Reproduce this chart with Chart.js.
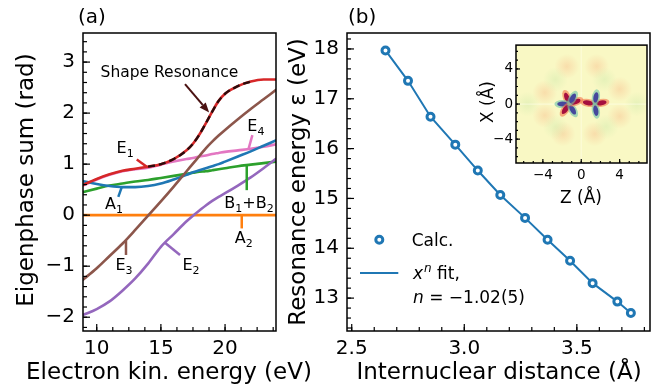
<!DOCTYPE html>
<html lang="en">
<head>
<meta charset="UTF-8">
<title>Eigenphase sum and shape resonance</title>
<script src="https://cdn.jsdelivr.net/npm/chart.js"></script>
<style>
  body { margin: 0; background: #fff; width: 657px; height: 388px; position: relative; overflow: hidden; }
  canvas { position: absolute; }
  #chartA { left: 0; top: 0; }
  #chartB { left: 280px; top: 0; }
  #inset { left: 468px; top: 34px; }
  .panel { position: absolute; font: 20px/20px "DejaVu Sans", sans-serif; color: #000; }
</style>
</head>
<body>
<canvas id="chartA" width="330" height="388"></canvas>
<canvas id="chartB" width="377" height="388"></canvas>
<canvas id="inset" width="186" height="175"></canvas>
<div class="panel" style="left:78px; top:6px">(a)</div>
<div class="panel" style="left:348px; top:6px">(b)</div>

<script>
  // ---- panel (a): eigenphase sums ----
  const kinEnergy = [8.9, 10, 11, 12, 13, 14, 15, 16, 17, 17.5, 18, 18.5, 19, 19.5, 20, 21, 22, 23, 24];
  const phaseA1 = [0.67, 0.61, 0.57, 0.55, 0.55, 0.57, 0.62, 0.70, 0.79, 0.84, 0.88, 0.92, 0.96, 1.00, 1.05, 1.15, 1.25, 1.36, 1.47];
  const phaseA2 = [0, 0, 0, 0, 0, 0, 0, 0, 0, 0, 0, 0, 0, 0, 0, 0, 0, 0, 0];
  const phaseB = [0.45, 0.52, 0.58, 0.62, 0.66, 0.69, 0.73, 0.77, 0.81, 0.83, 0.85, 0.86, 0.88, 0.90, 0.92, 0.96, 0.99, 1.02, 1.05];
  const phaseE1 = [0.59, 0.71, 0.80, 0.87, 0.91, 0.95, 1.00, 1.10, 1.27, 1.40, 1.58, 1.80, 2.03, 2.24, 2.38, 2.53, 2.62, 2.66, 2.66];
  const phaseE2 = [-1.96, -1.84, -1.69, -1.48, -1.24, -0.95, -0.62, -0.37, -0.12, -0.01, 0.09, 0.19, 0.28, 0.36, 0.43, 0.58, 0.74, 0.92, 1.11];
  const phaseE3 = [-1.27, -1.04, -0.80, -0.56, -0.29, -0.01, 0.27, 0.56, 0.86, 1.01, 1.16, 1.31, 1.44, 1.56, 1.67, 1.88, 2.08, 2.27, 2.46];
  const phaseE4 = [0.58, 0.70, 0.79, 0.86, 0.90, 0.93, 0.99, 1.05, 1.10, 1.12, 1.15, 1.17, 1.20, 1.22, 1.24, 1.27, 1.30, 1.34, 1.39];
  const shapeEnergy = [14, 15, 16, 17, 17.5, 18, 18.5, 19, 19.5, 20, 21, 22];
  const shapePhase = [0.95, 1.00, 1.10, 1.27, 1.40, 1.58, 1.80, 2.03, 2.24, 2.38, 2.53, 2.62];
  const energyTicks = [10, 15, 20];
  const phaseTicks = [-2, -1, 0, 1, 2, 3];

  // ---- panel (b): resonance energy vs internuclear distance ----
  const distance = [2.65, 2.75, 2.85, 2.96, 3.06, 3.16, 3.27, 3.37, 3.47, 3.57, 3.68, 3.74];
  const resEnergy = [17.97, 17.36, 16.64, 16.08, 15.56, 15.07, 14.61, 14.17, 13.75, 13.30, 12.93, 12.70];
  const distTicks = [2.5, 3.0, 3.5];
  const resTicks = [13, 14, 15, 16, 17, 18];

  // ---- inset: resonance wavefunction in the Z-X plane ----
  const insetTicks = [-4, 0, 4];
  const lobeZ = [-1.25, -1.25, -1.25, -1.25, -1.25, -1.25, 1.4, 1.4, 1.4, 1.4];
  const lobeX = [0, 0, 0, 0, 0, 0, 0, 0, 0, 0];
  const lobeAngle = [110, 180, 235, 300, 20, 60, 170, 10, 80, 280];
  const lobeSign = [1, -1, 1, -1, 1, -1, 1, 1, -1, -1];
  const blobZ = [-3.8, -3.8, -1.5, 1.6, 4.0, 4.0, -1.9, 1.4, -2.7, 2.4, -2.7, 2.6, -5.6, 5.8];
  const blobX = [1.3, -1.3, 4.3, 4.3, 1.7, -1.4, -3.4, -3.4, 2.8, 2.8, -2.6, -2.6, 0, 0];
  const blobSign = [1, 1, 1, 1, 1, 1, 1, 1, -1, -1, -1, -1, -1, -1];

  const FONT = '"DejaVu Sans", sans-serif';
  const C = { blue: '#1f77b4', orange: '#ff7f0e', green: '#2ca02c', red: '#d62728', purple: '#9467bd', brown: '#8c564b', pink: '#e377c2' };
  const minus = v => String(v).replace('-', '\u2212');
  const pts = (xs, ys) => xs.map((x, i) => ({ x, y: ys[i] }));

  // leader-line labels of panel (a), in data coordinates
  const notesA = [
    { parts: [['E', 0], ['1', 1]], color: C.red, lead: [13.12, 1.09, 13.90, 0.95], at: [12.21, 1.22] },
    { parts: [['A', 0], ['1', 1]], color: C.blue, lead: [11.68, 0.36, 11.95, 0.55], at: [11.35, 0.13] },
    { parts: [['E', 0], ['4', 1]], color: C.pink, lead: [22.13, 1.57, 21.82, 1.29], at: [22.40, 1.65] },
    { parts: [['B', 0], ['1', 1], ['+B', 0], ['2', 1]], color: C.green, lead: [21.69, 0.97, 21.69, 0.49], at: [21.87, 0.15] },
    { parts: [['A', 0], ['2', 1]], color: C.orange, lead: [21.30, 0, 21.30, -0.26], at: [21.46, -0.555] },
    { parts: [['E', 0], ['3', 1]], color: C.brown, lead: [12.28, -0.50, 12.28, -0.78], at: [12.13, -1.08] },
    { parts: [['E', 0], ['2', 1]], color: C.purple, lead: [15.32, -0.54, 16.49, -0.78], at: [17.35, -1.08] }
  ];

  function drawParts(ctx, cx, by, parts, size, subSize) {
    const fm = size + 'px ' + FONT, fs = subSize + 'px ' + FONT;
    let w = 0;
    parts.forEach(([t, s]) => { ctx.font = s ? fs : fm; w += ctx.measureText(t).width; });
    let x = cx - w / 2;
    ctx.textAlign = 'left';
    ctx.textBaseline = 'alphabetic';
    parts.forEach(([t, s]) => {
      ctx.font = s ? fs : fm;
      ctx.fillText(t, x, s ? by + 4 : by);
      x += ctx.measureText(t).width;
    });
  }

  function range(from, to, step) {
    const out = [];
    for (let v = from; v <= to + 1e-9; v += step) out.push(+v.toFixed(4));
    return out;
  }

  function drawTicks(chart, id, majors, minors, majLen, minLen) {
    const { ctx, chartArea: a } = chart;
    const s = chart.scales[id];
    ctx.save();
    ctx.strokeStyle = '#000';
    ctx.lineWidth = 1.2;
    const one = (v, len) => {
      const p = s.getPixelForValue(v);
      ctx.beginPath();
      if (s.isHorizontal()) { ctx.moveTo(p, a.bottom); ctx.lineTo(p, a.bottom - len); }
      else { ctx.moveTo(a.left, p); ctx.lineTo(a.left + len, p); }
      ctx.stroke();
    };
    minors.forEach(v => one(v, minLen));
    majors.forEach(v => one(v, majLen));
    ctx.restore();
  }

  function drawFrame(chart) {
    const { ctx, chartArea: a } = chart;
    ctx.save();
    ctx.strokeStyle = '#000';
    ctx.lineWidth = 1.5;
    ctx.strokeRect(a.left, a.top, a.width, a.height);
    ctx.restore();
  }

  function drawTitle(ctx, text, x, y, size, vertical) {
    ctx.save();
    ctx.fillStyle = '#000';
    ctx.font = size + 'px ' + FONT;
    ctx.textAlign = 'center';
    ctx.textBaseline = 'alphabetic';
    ctx.translate(x, y);
    if (vertical) ctx.rotate(-Math.PI / 2);
    ctx.fillText(text, 0, 0);
    ctx.restore();
  }

  function axis(min, max, ticks, fmt, extra) {
    return Object.assign({
      type: 'linear', min, max,
      afterBuildTicks: s => { s.ticks = ticks.map(v => ({ value: v })); },
      grid: { display: false, drawTicks: false },
      border: { display: false },
      ticks: { color: '#000', font: { family: FONT, size: 20 }, autoSkip: false, maxRotation: 0, callback: fmt }
    }, extra);
  }

  const curve = (xs, ys, color, order, extra) => Object.assign({
    data: pts(xs, ys), borderColor: color, borderWidth: 2.6, pointRadius: 0,
    cubicInterpolationMode: 'monotone', order
  }, extra);

  const panelA = {
    id: 'panelA',
    afterDatasetsDraw(chart) {
      const { ctx, scales: { x, y } } = chart;
      const P = (vx, vy) => [x.getPixelForValue(vx), y.getPixelForValue(vy)];
      ctx.save();
      notesA.forEach(n => {
        const [x1, y1] = P(n.lead[0], n.lead[1]);
        const [x2, y2] = P(n.lead[2], n.lead[3]);
        ctx.strokeStyle = n.color;
        ctx.lineWidth = 2.5;
        ctx.beginPath(); ctx.moveTo(x1, y1); ctx.lineTo(x2, y2); ctx.stroke();
        ctx.fillStyle = '#000';
        const [cx, by] = P(n.at[0], n.at[1]);
        drawParts(ctx, cx, by, n.parts, 16, 11);
      });
      // shape resonance label and arrow
      const [tx, ty] = P(15.67, 2.70);
      ctx.fillStyle = '#000';
      drawParts(ctx, tx, ty, [['Shape Resonance', 0]], 15.5, 11);
      const [ax1, ay1] = P(16.88, 2.57);
      const [ax2, ay2] = P(18.76, 2.01);
      const ang = Math.atan2(ay2 - ay1, ax2 - ax1), hl = 10, hw = 4;
      const cs = Math.cos(ang), sn = Math.sin(ang);
      ctx.strokeStyle = ctx.fillStyle = '#4a1212';
      ctx.lineWidth = 2;
      ctx.beginPath(); ctx.moveTo(ax1, ay1); ctx.lineTo(ax2 - hl * cs, ay2 - hl * sn); ctx.stroke();
      ctx.beginPath();
      ctx.moveTo(ax2, ay2);
      ctx.lineTo(ax2 - hl * cs - hw * sn, ay2 - hl * sn + hw * cs);
      ctx.lineTo(ax2 - hl * cs + hw * sn, ay2 - hl * sn - hw * cs);
      ctx.closePath(); ctx.fill();
      ctx.restore();
    },
    afterDraw(chart) {
      drawFrame(chart);
      drawTicks(chart, 'y', phaseTicks, range(-2.2, 3.4, 0.2), 7, 4);
      drawTicks(chart, 'x', energyTicks, range(10, 23.75, 1.25), 7, 4);
      drawTitle(chart.ctx, 'Electron kin. energy (eV)', 169, 379, 23, false);
      drawTitle(chart.ctx, 'Eigenphase sum (rad)', 33, 180, 23, true);
    }
  };

  new Chart(document.getElementById('chartA'), {
    type: 'line',
    data: {
      datasets: [
        curve(shapeEnergy, shapePhase, 'rgba(35,10,10,0.95)', 0, { borderDash: [7, 4], borderWidth: 2.4 }),
        curve(kinEnergy, phaseE1, C.red, 1),
        curve(kinEnergy, phaseE3, C.brown, 2),
        curve(kinEnergy, phaseE2, C.purple, 3),
        curve(kinEnergy, phaseA1, C.blue, 4),
        curve(kinEnergy, phaseB, C.green, 5),
        curve(kinEnergy, phaseE4, C.pink, 6),
        curve(kinEnergy, phaseA2, C.orange, 7)
      ]
    },
    options: {
      responsive: false,
      animation: false,
      layout: { padding: { left: 0, right: 54, top: 33, bottom: 0 } },
      plugins: { legend: { display: false }, tooltip: { enabled: false } },
      scales: {
        x: axis(8.93, 23.97, energyTicks, v => minus(v), { afterFit: s => { s.height = 57; } }),
        y: axis(-2.27, 3.57, phaseTicks, v => minus(v), { afterFit: s => { s.width = 83; } })
      }
    },
    plugins: [panelA]
  });
  Chart.getChart('chartA').options.scales.x.ticks.padding = 6;
  Chart.getChart('chartA').options.scales.y.ticks.padding = 8;
  Chart.getChart('chartA').update();

  const panelB = {
    id: 'panelB',
    afterDraw(chart) {
      const { ctx, chartArea: a } = chart;
      drawFrame(chart);
      drawTicks(chart, 'y', resTicks, range(12.4, 18.2, 0.2), 7, 4);
      drawTicks(chart, 'x', distTicks, range(2.5, 3.8, 0.1), 7, 4);
      drawTitle(ctx, 'Internuclear distance (Å)', 219, 379, 23, false);
      drawTitle(ctx, 'Resonance energy ε (eV)', 25, 182, 23, true);
      // legend
      ctx.save();
      ctx.strokeStyle = C.blue;
      ctx.fillStyle = '#fff';
      ctx.lineWidth = 3;
      ctx.beginPath(); ctx.arc(a.left + 32.3, a.top + 206.7, 3.5, 0, Math.PI * 2); ctx.fill(); ctx.stroke();
      ctx.lineWidth = 2;
      ctx.beginPath(); ctx.moveTo(a.left + 13, a.top + 240); ctx.lineTo(a.left + 51.3, a.top + 240); ctx.stroke();
      ctx.fillStyle = '#000';
      ctx.textAlign = 'left';
      ctx.textBaseline = 'alphabetic';
      ctx.font = '17px ' + FONT;
      ctx.fillText('Calc.', a.left + 64.7, a.top + 212.7);
      let x0 = a.left + 66;
      ctx.font = 'italic 17px ' + FONT;
      ctx.fillText('x', x0, a.top + 246);
      x0 += ctx.measureText('x').width + 1;
      ctx.font = 'italic 12px ' + FONT;
      ctx.fillText('n', x0, a.top + 239);
      x0 += ctx.measureText('n').width;
      ctx.font = '17px ' + FONT;
      ctx.fillText(' fit,', x0, a.top + 246);
      x0 = a.left + 66;
      ctx.font = 'italic 17px ' + FONT;
      ctx.fillText('n', x0, a.top + 270);
      x0 += ctx.measureText('n').width;
      ctx.font = '17px ' + FONT;
      ctx.fillText(' = \u22121.02(5)', x0, a.top + 270);
      ctx.restore();
    }
  };

  new Chart(document.getElementById('chartB'), {
    type: 'line',
    data: {
      datasets: [
        { data: pts(distance, resEnergy), borderColor: C.blue, borderWidth: 2, pointRadius: 0, order: 2 },
        {
          data: pts(distance, resEnergy), showLine: false, order: 1,
          pointRadius: 3.5, pointBorderWidth: 3, pointBorderColor: C.blue, pointBackgroundColor: '#fff'
        }
      ]
    },
    options: {
      responsive: false,
      animation: false,
      layout: { padding: { left: 0, right: 5, top: 33, bottom: 0 } },
      plugins: { legend: { display: false }, tooltip: { enabled: false } },
      scales: {
        x: axis(2.479, 3.825, distTicks, v => v.toFixed(1), { afterFit: s => { s.height = 57; } }),
        y: axis(12.34, 18.32, resTicks, v => minus(v), { afterFit: s => { s.width = 67; } })
      }
    },
    plugins: [panelB]
  });
  Chart.getChart('chartB').options.scales.x.ticks.padding = 6;
  Chart.getChart('chartB').options.scales.y.ticks.padding = 8;
  Chart.getChart('chartB').update();

  function ellipse(ctx, cx, cy, rx, ry, rot, color) {
    ctx.fillStyle = color;
    ctx.beginPath();
    ctx.ellipse(cx, cy, rx, ry, rot, 0, Math.PI * 2);
    ctx.fill();
  }

  const insetMap = {
    id: 'insetMap',
    beforeDatasetsDraw(chart) {
      const { ctx, chartArea: a, scales: { x, y } } = chart;
      const ux = Math.abs(x.getPixelForValue(1) - x.getPixelForValue(0));
      ctx.save();
      ctx.beginPath(); ctx.rect(a.left, a.top, a.width, a.height); ctx.clip();
      ctx.fillStyle = '#f9f8c4';
      ctx.fillRect(a.left, a.top, a.width, a.height);
      // faint outer oscillations
      blobZ.forEach((z, i) => {
        const cx = x.getPixelForValue(z), cy = y.getPixelForValue(blobX[i]);
        const r = 1.3 * ux;
        const g = ctx.createRadialGradient(cx, cy, 0, cx, cy, r);
        const col = blobSign[i] > 0 ? '248,200,150' : '214,236,176';
        g.addColorStop(0, 'rgba(' + col + ',0.55)');
        g.addColorStop(1, 'rgba(' + col + ',0)');
        ctx.fillStyle = g;
        ctx.fillRect(cx - r, cy - r, 2 * r, 2 * r);
      });
      // nodal planes
      ctx.strokeStyle = 'rgba(255,255,235,0.5)';
      ctx.lineWidth = 1.2;
      ctx.beginPath();
      ctx.moveTo(x.getPixelForValue(0), a.top); ctx.lineTo(x.getPixelForValue(0), a.bottom);
      ctx.moveTo(a.left, y.getPixelForValue(0)); ctx.lineTo(a.right, y.getPixelForValue(0));
      ctx.stroke();
      // lobes near the two nuclei
      ctx.filter = 'blur(0.7px)';
      lobeZ.forEach((z, i) => {
        const t = lobeAngle[i] * Math.PI / 180;
        const cx0 = x.getPixelForValue(z), cy0 = y.getPixelForValue(lobeX[i]);
        const cx = cx0 + Math.cos(t) * 0.7 * ux, cy = cy0 - Math.sin(t) * 0.7 * ux;
        const outer = lobeSign[i] > 0 ? 'rgba(244,120,75,0.6)' : 'rgba(110,195,170,0.6)';
        const inner = lobeSign[i] > 0 ? '#a50f3f' : '#45489c';
        ellipse(ctx, cx, cy, 0.85 * ux, 0.42 * ux, -t, outer);
        ellipse(ctx, cx, cy, 0.55 * ux, 0.26 * ux, -t, inner);
      });
      ctx.restore();
    },
    afterDraw(chart) {
      drawFrame(chart);
      drawTicks(chart, 'y', insetTicks, range(-6, 6, 1), 4, 2);
      drawTicks(chart, 'x', insetTicks, range(-6, 6, 1), 4, 2);
      drawTitle(chart.ctx, 'Z (Å)', 113, 169, 17, false);
      drawTitle(chart.ctx, 'X (Å)', 25, 68, 17, true);
    }
  };

  new Chart(document.getElementById('inset'), {
    type: 'line',
    data: { datasets: [] },
    options: {
      responsive: false,
      animation: false,
      layout: { padding: { left: 0, right: 7, top: 7, bottom: 0 } },
      plugins: { legend: { display: false }, tooltip: { enabled: false } },
      scales: {
        x: axis(-6.8, 6.85, insetTicks, v => minus(v), { afterFit: s => { s.height = 46; } }),
        y: axis(-6.72, 6.72, insetTicks, v => minus(v), { afterFit: s => { s.width = 48; } })
      }
    },
    plugins: [insetMap]
  });
  const inset = Chart.getChart('inset');
  inset.options.scales.x.ticks.font = { family: FONT, size: 13.5 };
  inset.options.scales.y.ticks.font = { family: FONT, size: 13.5 };
  inset.options.scales.x.ticks.padding = 4;
  inset.options.scales.y.ticks.padding = 3;
  inset.update();
</script>
</body>
</html>
